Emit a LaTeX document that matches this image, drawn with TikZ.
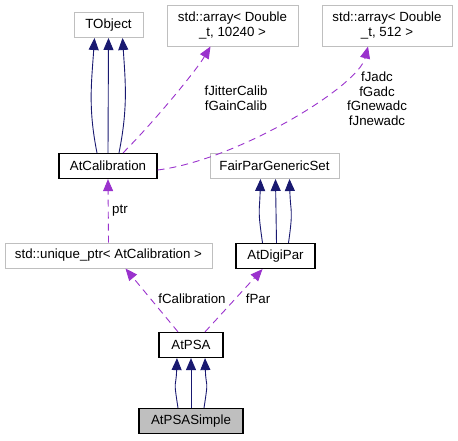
\documentclass[tikz,border=0pt]{standalone}
\usepackage{fontspec}
\setmainfont{Liberation Sans}
\usetikzlibrary{arrows.meta}

\definecolor{inhblue}{HTML}{191970}
\definecolor{usepurple}{HTML}{9A32CD}
\definecolor{extgray}{HTML}{BFBFBF}

\tikzset{
  cls/.style={draw=black, line width=1.2pt, minimum height=25pt, inner sep=0pt,
    font=\fontsize{13.3}{15}\selectfont},
  extcls/.style={cls, draw=extgray, line width=1pt},
  multicls/.style={extcls, align=center, font=\fontsize{13.3}{14.5}\selectfont},
  inh/.style={draw=inhblue, line width=0.9pt, -{Triangle[length=12pt,width=10pt]}},
  use/.style={draw=usepurple, line width=0.9pt, dash pattern=on 7pt off 5pt,
    -{Triangle[length=12pt,width=10pt]}},
  lbl/.style={font=\fontsize{13.3}{14.5}\selectfont, align=center, inner sep=0pt}
}

\begin{document}
\begin{tikzpicture}[x=1pt,y=-1pt]
\useasboundingbox (0,0) rectangle (458,440);

% classes
\node[extcls, minimum width=69pt] (tobject) at (108.5,25) {TObject};
\node[multicls, minimum width=131pt, minimum height=41pt] (arrbig) at (232.5,25.5) {std::array< Double\\\_t, 10240 >};
\node[multicls, minimum width=130pt, minimum height=41pt] (arrsmall) at (387,25.5) {std::array< Double\\\_t, 512 >};
\node[cls, minimum width=98pt] (calib) at (108,166) {AtCalibration};
\node[extcls, minimum width=129pt] (fairset) at (274.5,166) {FairParGenericSet};
\node[extcls, minimum width=207pt] (uptr) at (108.5,255.5) {std::unique\_ptr< AtCalibration >};
\node[cls, minimum width=79pt] (digipar) at (275.5,256) {AtDigiPar};
\node[cls, minimum width=64pt] (psa) at (191,345) {AtPSA};
\node[cls, minimum width=104pt, fill=extgray] (psasimple) at (191,421) {AtPSASimple};

% inheritance
\draw[inh] ([xshift=-11pt]calib.north) .. controls +(-9,-45) and +(-3,45) .. ([xshift=-14pt]tobject.south);
\draw[inh] (calib.north) -- (tobject.south);
\draw[inh] ([xshift=11pt]calib.north) .. controls +(9,-45) and +(3,45) .. ([xshift=14pt]tobject.south);

\draw[inh] ([xshift=-13pt]digipar.north) .. controls +(-5,-35) and +(-1,35) .. ([xshift=-14pt]fairset.south);
\draw[inh] ([xshift=1pt]digipar.north) -- ([xshift=1pt]fairset.south);
\draw[inh] ([xshift=13pt]digipar.north) .. controls +(5,-35) and +(1,35) .. ([xshift=15pt]fairset.south);

\draw[inh] ([xshift=-13pt]psasimple.north) .. controls +(-5,-32) and +(-1,32) .. ([xshift=-14pt]psa.south);
\draw[inh] (psasimple.north) -- (psa.south);
\draw[inh] ([xshift=13pt]psasimple.north) .. controls +(5,-32) and +(1,32) .. ([xshift=14pt]psa.south);

% usage
\draw[use] ([xshift=15pt]calib.north) .. controls +(30,-30) and +(-15,25) .. ([xshift=-22pt]arrbig.south);
\draw[use] ([yshift=-4pt]calib.east) .. controls +(80,-10) and +(-10,40) .. ([xshift=-19pt]arrsmall.south);
\draw[use] (uptr.north) -- (calib.south);
\draw[use] ([xshift=-13pt]psa.north) -- ([xshift=17pt]uptr.south);
\draw[use] ([xshift=14pt]psa.north) -- ([xshift=-13pt]digipar.south);

% member labels
\node[lbl] (ljitter) at (236,98) {fJitterCalib\\fGainCalib};
\node[lbl] (ladc) at (377,98.5) {fJadc\\fGadc\\fGnewadc\\fJnewadc};
\node[lbl] (lptr) at (120,211) {ptr};
\node[lbl] (lcalib) at (192,299) {fCalibration};
\node[lbl] (lpar) at (258,299) {fPar};
\end{tikzpicture}
\end{document}
